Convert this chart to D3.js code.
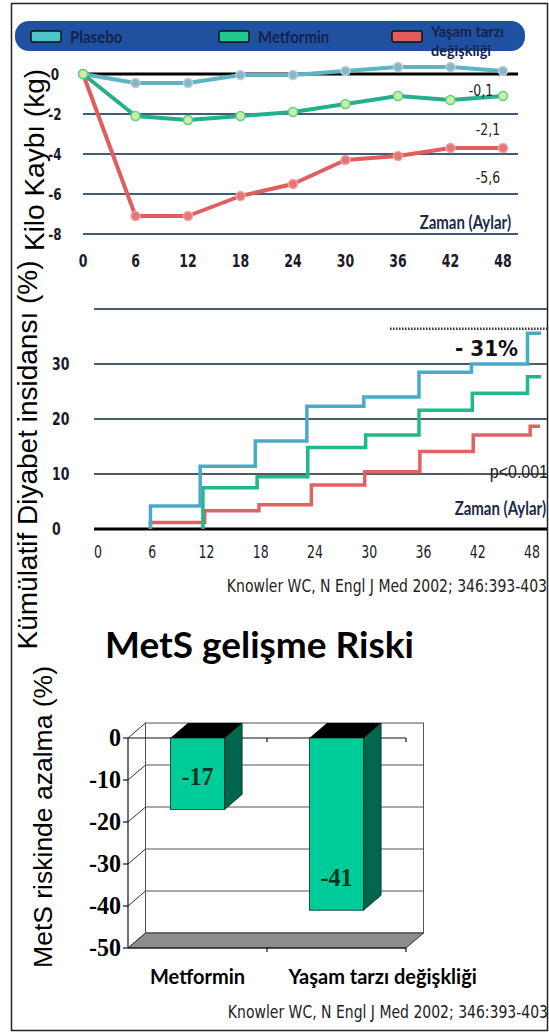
<!DOCTYPE html>
<html>
<head>
<meta charset="utf-8">
<script src="https://cdn.jsdelivr.net/npm/d3@7"></script>
<style>
	body { margin: 0; background: #fff; }
	svg { display: block; }
</style>
</head>
<body>
<div id="chart"></div>
<script>
// ---- DATA ----
var seriesNames = ['Plasebo', 'Metformin', 'Yaşam tarzı değişkliği'];

// kilo kaybi (kg), aylara gore
var months = [0, 6, 12, 18, 24, 30, 36, 42, 48];
var kiloPlasebo = [0, -0.45, -0.45, -0.05, -0.05, 0.15, 0.35, 0.35, 0.15];
var kiloMetformin = [0, -2.1, -2.3, -2.1, -1.9, -1.5, -1.1, -1.3, -1.1];
var kiloYasam = [0, -7.1, -7.1, -6.1, -5.5, -4.3, -4.1, -3.7, -3.7];
var kiloLabels = ['-0,1', '-2,1', '-5,6'];
var kiloTicks = [0, -2, -4, -6, -8];

// kumulatif diyabet insidansi (%), basamak noktalari
var adimAyPlasebo = [5.8, 5.8, 11.3, 17.4, 23.1, 29.4, 35.5, 41.3, 47.5, 49];
var insidansPlasebo = [0, 4.2, 11.4, 16, 22.3, 24, 28.5, 30, 35.6, 35.6];
var adimAyMetformin = [11.6, 11.6, 17.6, 23.2, 29.6, 35.5, 41.4, 47.5, 49];
var insidansMetformin = [0, 7.5, 9.5, 14.8, 17.1, 21.6, 24.7, 27.7, 27.7];
var adimAyYasam = [5.8, 5.8, 11.8, 17.8, 23.6, 29.5, 35.6, 41.5, 47.8, 48.9];
var insidansYasam = [0, 1.2, 3.3, 4.4, 8, 10.4, 14.1, 17.1, 18.7, 18.7];
var insidansTicks = [0, 10, 20, 30];
var insidansGrid = [10, 20, 30, 40];

// MetS gelisme riski (%)
var barCategories = ['Metformin', 'Yaşam tarzı değişkliği'];
var barValues = [-17, -41];
var barTicks = [0, -10, -20, -30, -40, -50];

var source = 'Knowler WC, N Engl J Med 2002; 346:393-403';

// ---- DRAW ----
var width = 549, height = 1035;
var svg = d3.select('#chart').append('svg')
	.attr('width', width)
	.attr('height', height);

// text that is a bit taller than the font (the slide was stretched)
function label(g, x, y, txt, font, anchor, sy, fill){
	return g.append('text')
		.attr('transform', 'translate(' + x + ',' + y + ') scale(1,' + sy + ')')
		.attr('text-anchor', anchor)
		.style('font', font)
		.style('fill', fill || '#1a1a28')
		.text(txt);
}

svg.append('rect')
	.attr('x', 11.5).attr('y', 3.5)
	.attr('width', 536).attr('height', 1027)
	.attr('fill', 'none')
	.attr('stroke', '#222')
	.attr('stroke-width', 1.5);

// legend bar
var legendColors = ['#4fc4c8', '#22c690', '#e35b5b'];
var legendX = [31, 219, 392];
var legend = svg.append('g');
legend.append('rect')
	.attr('x', 15).attr('y', 21)
	.attr('width', 510).attr('height', 30)
	.attr('rx', 14)
	.attr('fill', '#1f51a0');

seriesNames.forEach(function(name, i){
	legend.append('rect')
		.attr('x', legendX[i]).attr('y', 31)
		.attr('width', 30).attr('height', 11)
		.attr('rx', 2)
		.attr('fill', legendColors[i])
		.attr('stroke', '#111')
		.attr('stroke-width', 1.5);
	if (i == 2){
		var parts = name.split(' ');
		label(legend, legendX[i] + 39, 37, parts[0] + ' ' + parts[1], 'bold 14.5px Lato', 'start', 1.05, '#14234c');
		label(legend, legendX[i] + 39, 56, parts[2], 'bold 14.5px Lato', 'start', 1.05, '#14234c');
	} else {
		label(legend, legendX[i] + 39, 43, name, 'bold 15px Lato', 'start', 1.15, '#14234c');
	}
});

// ---- PANEL 1: kilo kaybi ----
var x1 = d3.scaleLinear().domain([0, 48]).range([83, 503]);
var y1 = d3.scaleLinear().domain([-8, 0]).range([234, 74]);
var p1 = svg.append('g');

kiloTicks.forEach(function(t){
	p1.append('line')
		.attr('x1', x1(0)).attr('x2', 518)
		.attr('y1', y1(t)).attr('y2', y1(t))
		.attr('stroke', t == 0 ? '#000' : '#3f5d7a')
		.attr('stroke-width', t == 0 ? 3 : 2);
	label(p1, 55, y1(t) + 6, t, 'bold 12px "DejaVu Sans"', 'middle', 1.35);
});

months.forEach(function(m){
	label(p1, x1(m), 267, m, 'bold 12.5px "DejaVu Sans"', 'middle', 1.35);
});

var kiloSeries = [
	{ vals: kiloPlasebo, line: '#5db4c2', fill: '#8cb4c4', stroke: '#b3d2dc' },
	{ vals: kiloYasam, line: '#df5f5f', fill: '#e47676', stroke: '#f3a3a3' },
	{ vals: kiloMetformin, line: '#25b08a', fill: '#c8eea0', stroke: '#63c98f' }
];

var kiloLine = d3.line()
	.x(function(d, i){ return x1(months[i]); })
	.y(function(d){ return y1(d); });

kiloSeries.forEach(function(s){
	p1.append('path')
		.datum(s.vals)
		.attr('d', kiloLine)
		.style('fill', 'none')
		.style('stroke', s.line)
		.style('stroke-width', 4)
		.style('stroke-linejoin', 'round');
	p1.selectAll(null)
		.data(s.vals)
		.enter()
		.append('circle')
		.attr('cx', function(d, i){ return x1(months[i]); })
		.attr('cy', function(d){ return y1(d); })
		.attr('r', 4.5)
		.style('fill', s.fill)
		.style('stroke', s.stroke)
		.style('stroke-width', 1.5);
});

var kiloLabelPos = [[481, 96], [488, 135], [488, 183]];
kiloLabels.forEach(function(l, i){
	label(p1, kiloLabelPos[i][0], kiloLabelPos[i][1], l, '12.5px "DejaVu Sans"', 'middle', 1.3, '#222');
});

label(p1, 511, 229, 'Zaman (Aylar)', 'bold 15px Lato', 'end', 1.2, '#1a2a4a');

p1.append('text')
	.attr('transform', 'translate(44,160) rotate(-90)')
	.attr('text-anchor', 'middle')
	.style('font', '28px "Liberation Sans"')
	.text('Kilo Kaybı (kg)');

// ---- PANEL 2: kumulatif diyabet insidansi ----
var x2 = d3.scaleLinear().domain([0, 48]).range([98, 532]);
var y2 = d3.scaleLinear().domain([0, 40]).range([529, 309]);
var p2 = svg.append('g');

insidansGrid.forEach(function(t){
	p2.append('line')
		.attr('x1', 94).attr('x2', 547)
		.attr('y1', y2(t)).attr('y2', y2(t))
		.attr('stroke', '#4b5b6b')
		.attr('stroke-width', 2);
});
p2.append('line')
	.attr('x1', 94).attr('x2', 547)
	.attr('y1', y2(0)).attr('y2', y2(0))
	.attr('stroke', '#000')
	.attr('stroke-width', 3);

insidansTicks.forEach(function(t){
	label(p2, 52, y2(t) + 6, t, 'bold 12.5px "DejaVu Sans"', 'start', 1.35);
});
months.forEach(function(m){
	label(p2, x2(m), 558, m, '12.5px "DejaVu Sans"', 'middle', 1.35);
});

var stepLine = d3.line()
	.curve(d3.curveStepAfter)
	.x(function(d){ return x2(d[0]); })
	.y(function(d){ return y2(d[1]); });

var steps = [
	{ pts: d3.zip(adimAyYasam, insidansYasam), color: '#e06262' },
	{ pts: d3.zip(adimAyMetformin, insidansMetformin), color: '#1fb98b' },
	{ pts: d3.zip(adimAyPlasebo, insidansPlasebo), color: '#4aaac8' }
];
steps.forEach(function(s){
	p2.append('path')
		.datum(s.pts)
		.attr('d', stepLine)
		.style('fill', 'none')
		.style('stroke', s.color)
		.style('stroke-width', 3.5);
});

// -31% annotation
var a0 = [x2(32.3), y2(36.4)], a1 = [x2(48.5), y2(27.7)];
var slant = d3.interpolateArray(a0, a1);
p2.append('line')
	.attr('x1', a0[0]).attr('x2', 549)
	.attr('y1', a0[1]).attr('y2', a0[1])
	.attr('stroke', '#333').attr('stroke-width', 2.5)
	.attr('stroke-dasharray', '1.5,1.5');
[[0, 0.41], [0.68, 1]].forEach(function(r){
	var s0 = slant(r[0]), s1 = slant(r[1]);
	p2.append('line')
		.attr('x1', s0[0]).attr('y1', s0[1])
		.attr('x2', s1[0]).attr('y2', s1[1])
		.attr('stroke', '#333').attr('stroke-width', 2.5)
		.attr('stroke-dasharray', '1.5,1.5');
});
label(p2, 455, 356, '- 31%', 'bold 20px "DejaVu Sans"', 'start', 1.1, '#111');

label(p2, 548, 478, 'p<0.001', '16px "Liberation Sans"', 'end', 1.1, '#222');

label(p2, 546, 515, 'Zaman (Aylar)', 'bold 15px Lato', 'end', 1.2, '#1a2a4a');

label(p2, 547, 592, source, '14px "DejaVu Sans"', 'end', 1.25, '#222');

p2.append('text')
	.attr('transform', 'translate(37,455) rotate(-90)')
	.attr('text-anchor', 'middle')
	.style('font', '28px "Liberation Sans"')
	.text('Kümülatif Diyabet insidansı (%)');

// ---- PANEL 3: MetS gelisme riski (3D bar) ----
var p3 = svg.append('g');
p3.append('text')
	.attr('x', 105).attr('y', 658)
	.style('font', 'bold 37px Lato')
	.style('fill', '#000')
	.text('MetS gelişme Riski');

var dx = 17.5, dy = -15;
var yb = d3.scaleLinear().domain([-50, 0]).range([948, 738]);
var xb = d3.scaleBand().domain(barCategories).range([128, 406])
	.paddingInner(0.61).paddingOuter(0.305);
var bx0 = 128, bx1 = 406;

// back wall
p3.append('rect')
	.attr('x', bx0 + dx).attr('y', yb(0) + dy)
	.attr('width', bx1 - bx0).attr('height', yb(-50) - yb(0))
	.attr('fill', '#fff')
	.attr('stroke', '#555').attr('stroke-width', 1);

barTicks.forEach(function(t){
	if (t != 0 && t != -50){
		p3.append('line')
			.attr('x1', bx0 + dx).attr('x2', bx1 + dx)
			.attr('y1', yb(t) + dy).attr('y2', yb(t) + dy)
			.attr('stroke', '#555').attr('stroke-width', 1);
	}
	// side wall diagonal
	p3.append('line')
		.attr('x1', bx0).attr('y1', yb(t))
		.attr('x2', bx0 + dx).attr('y2', yb(t) + dy)
		.attr('stroke', '#333').attr('stroke-width', 1);
	p3.append('line')
		.attr('x1', bx0 - 5).attr('x2', bx0)
		.attr('y1', yb(t)).attr('y2', yb(t))
		.attr('stroke', '#111').attr('stroke-width', 1.2);
	label(p3, 121, yb(t) + 8, t, 'bold 24px "Liberation Serif"', 'end', 1.05, '#000');
});

// floor
p3.append('path')
	.attr('d', 'M' + bx0 + ',' + yb(-50) + 'L' + bx1 + ',' + yb(-50) +
		'L' + (bx1 + dx) + ',' + (yb(-50) + dy) + 'L' + (bx0 + dx) + ',' + (yb(-50) + dy) + 'Z')
	.attr('fill', '#8c8c8c')
	.attr('stroke', '#333').attr('stroke-width', 1);

// front axis lines
p3.append('line')
	.attr('x1', bx0).attr('x2', bx0)
	.attr('y1', yb(0)).attr('y2', yb(-50))
	.attr('stroke', '#111').attr('stroke-width', 1.2);
[0, -50].forEach(function(t){
	p3.append('line')
		.attr('x1', bx0).attr('x2', bx1)
		.attr('y1', yb(t)).attr('y2', yb(t))
		.attr('stroke', '#111').attr('stroke-width', 1.2);
	[bx0 + xb.step(), bx1].forEach(function(tx){
		p3.append('line')
			.attr('x1', tx).attr('x2', tx)
			.attr('y1', yb(t)).attr('y2', yb(t) + 4)
			.attr('stroke', '#111').attr('stroke-width', 1.2);
	});
});

barCategories.forEach(function(c, i){
	var x = xb(c), w = xb.bandwidth(), v = barValues[i];
	var top = yb(0), bot = yb(v);
	p3.append('rect')
		.attr('x', x).attr('y', top)
		.attr('width', w).attr('height', bot - top)
		.attr('fill', '#00cc99')
		.attr('stroke', '#0a2a1e').attr('stroke-width', 0.8);
	p3.append('path')
		.attr('d', 'M' + (x + w) + ',' + top + 'L' + (x + w + dx) + ',' + (top + dy) +
			'L' + (x + w + dx) + ',' + (bot + dy) + 'L' + (x + w) + ',' + bot + 'Z')
		.attr('fill', '#00664d')
		.attr('stroke', '#0a2a1e').attr('stroke-width', 0.8);
	p3.append('path')
		.attr('d', 'M' + x + ',' + top + 'L' + (x + w) + ',' + top +
			'L' + (x + w + dx) + ',' + (top + dy) + 'L' + (x + dx) + ',' + (top + dy) + 'Z')
		.attr('fill', '#000');
	label(p3, x + w / 2, bot - 24, v, 'bold 24px "Liberation Serif"', 'middle', 1.05, '#0b3324');
	label(p3, i == 0 ? x + w / 2 : x - 21, 984, c, 'bold 20px Lato', i == 0 ? 'middle' : 'start', 1.05, '#000');
});

p3.append('text')
	.attr('transform', 'translate(52,817) rotate(-90)')
	.attr('text-anchor', 'middle')
	.style('font', '26.5px "Liberation Sans"')
	.text('MetS riskinde azalma (%)');

label(p3, 548, 1018, source, '14px "DejaVu Sans"', 'end', 1.25, '#222');
</script>
</body>
</html>
